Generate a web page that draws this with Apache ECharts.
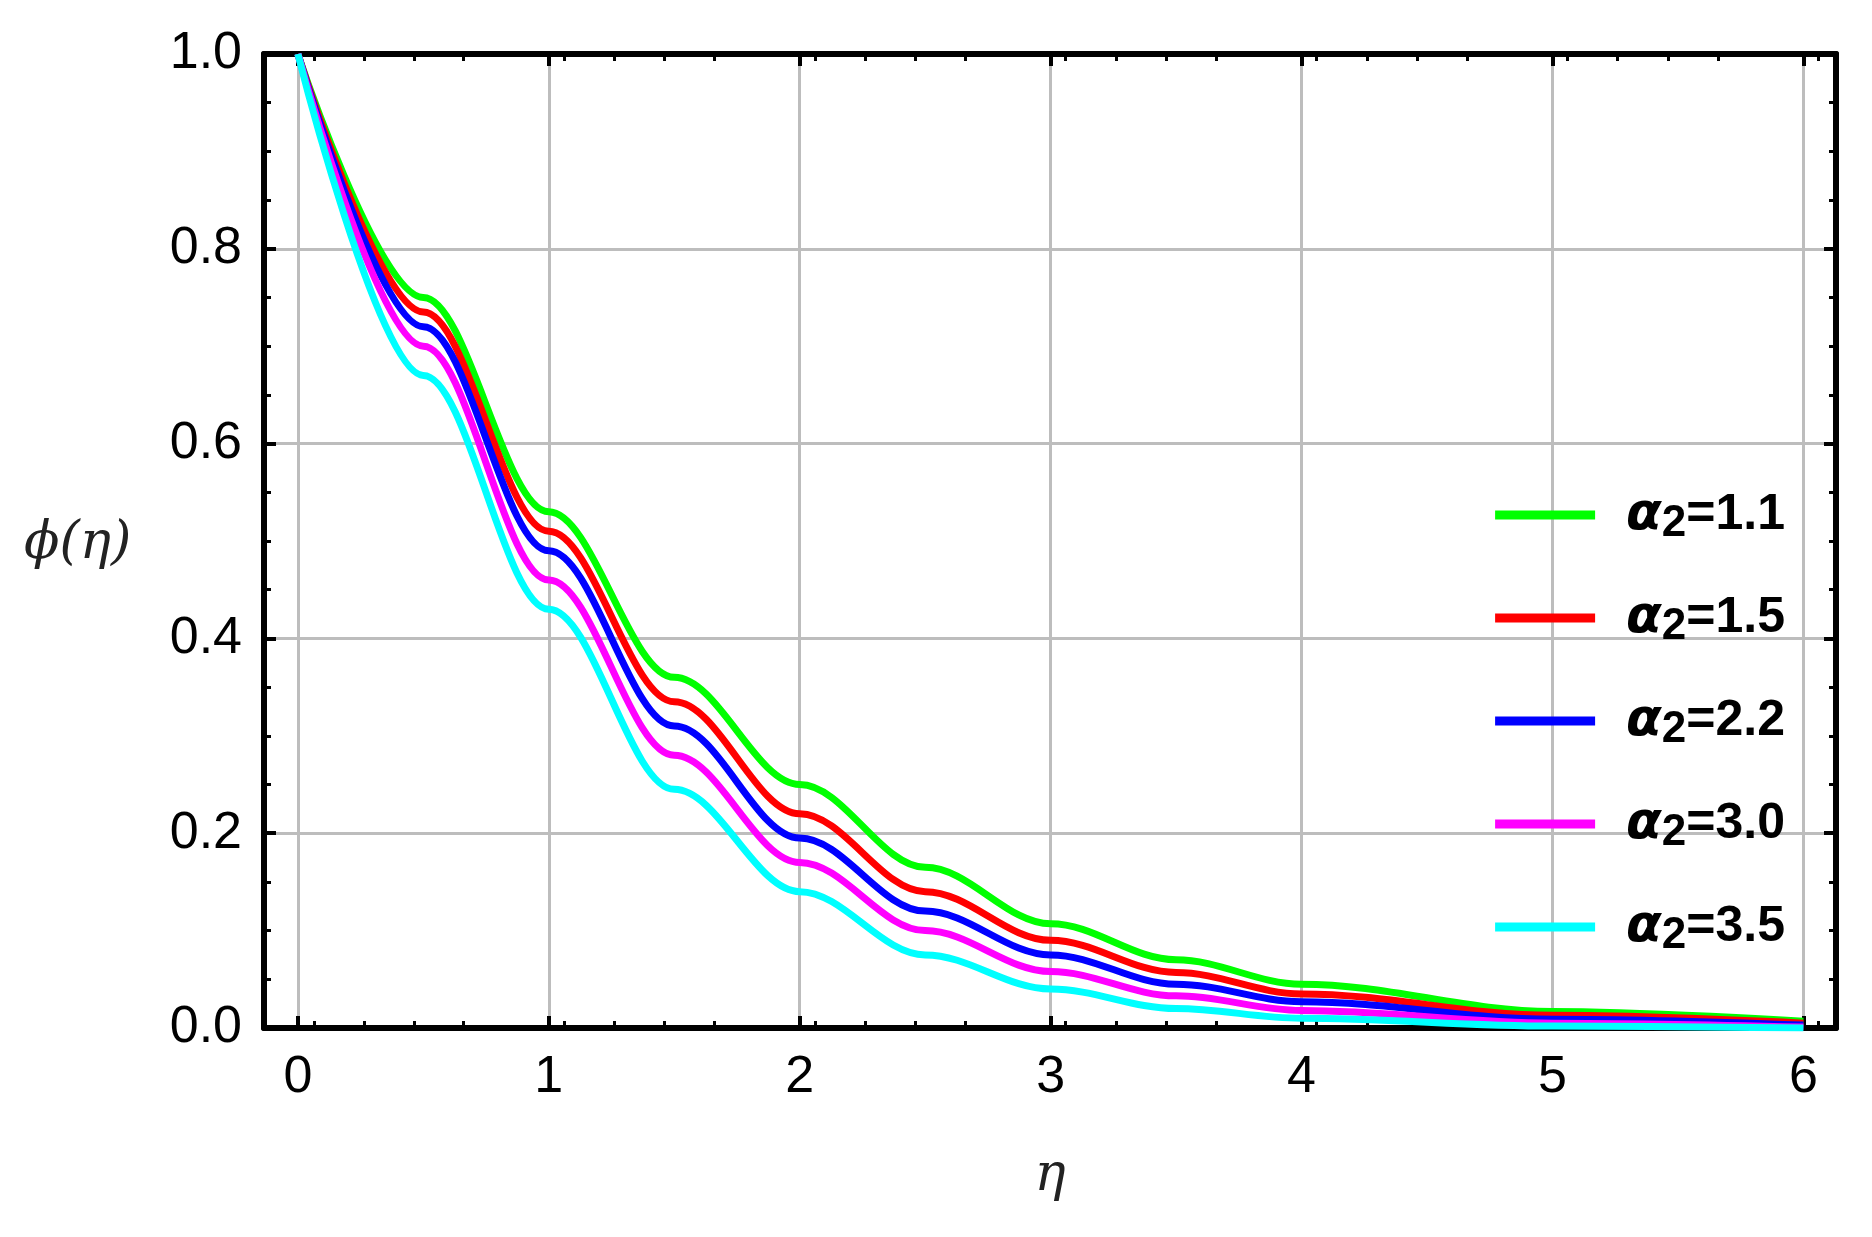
<!DOCTYPE html>
<html><head><meta charset="utf-8">
<script src="https://cdn.jsdelivr.net/npm/echarts@6/dist/echarts.min.js"></script>
<style>html,body{margin:0;background:#fff}#main{width:1872px;height:1237px}</style>
</head><body><div id="main"></div>
<script>
var eta = [0, 0.5, 1, 1.5, 2, 2.5, 3, 3.5, 4, 5, 6];
var phi11 = [1, 0.75, 0.53, 0.36, 0.25, 0.165, 0.107, 0.07, 0.045, 0.017, 0.007];
var phi15 = [1, 0.735, 0.51, 0.335, 0.22, 0.14, 0.09, 0.057, 0.035, 0.013, 0.005];
var phi22 = [1, 0.72, 0.49, 0.31, 0.195, 0.12, 0.075, 0.045, 0.027, 0.009, 0.003];
var phi30 = [1, 0.70, 0.46, 0.28, 0.17, 0.10, 0.058, 0.033, 0.018, 0.005, 0.001];
var phi35 = [1, 0.67, 0.43, 0.245, 0.14, 0.075, 0.04, 0.02, 0.01, 0.002, 0];
var names = ['1.1', '1.5', '2.2', '3.0', '3.5'];
var colors = ['#00ff00', '#ff0000', '#0000ff', '#ff00ff', '#00ffff'];
var allData = [phi11, phi15, phi22, phi30, phi35];

var chart = echarts.init(document.getElementById('main'));
var tickFont = { fontFamily: 'Arial, Liberation Sans', fontSize: 52, color: '#000' };

function xAx(pos, show) {
  return {
    type: 'value', position: pos, min: -0.135, max: 6.13, interval: 1,
    axisLine: { show: true, onZero: false, lineStyle: { color: '#000', width: 6 } },
    axisTick: { show: true, inside: true, length: 12, lineStyle: { color: '#000', width: 4 },
      customValues: [0, 1, 2, 3, 4, 5, 6] },
    minorTick: { show: true, splitNumber: 5, length: 7, lineStyle: { color: '#000', width: 3 } },
    axisLabel: { show: show, margin: 24, customValues: [0, 1, 2, 3, 4, 5, 6], ...tickFont },
    splitLine: { show: show, lineStyle: { color: '#bdbdbd', width: 3 } },
    name: show ? 'η' : '', nameLocation: 'middle', nameGap: 122,
    nameTextStyle: { fontFamily: 'DejaVu Serif', fontStyle: 'italic', fontSize: 52, color: '#222' }
  };
}
function yAx(pos, show) {
  return {
    type: 'value', position: pos, min: 0, max: 1, interval: 0.2,
    axisLine: { show: true, onZero: false, lineStyle: { color: '#000', width: 6 } },
    axisTick: { show: true, inside: true, length: 12, lineStyle: { color: '#000', width: 4 } },
    minorTick: { show: true, splitNumber: 4, length: 7, lineStyle: { color: '#000', width: 3 } },
    axisLabel: { show: show, margin: 22, formatter: function (v) { return v.toFixed(1); }, ...tickFont },
    splitLine: { show: show, lineStyle: { color: '#bdbdbd', width: 3 } }
  };
}

chart.setOption({
  backgroundColor: '#fff',
  animation: false,
  grid: { left: 264, right: 36, top: 54, bottom: 209 },
  xAxis: [xAx('bottom', true), xAx('top', false)],
  yAxis: [yAx('left', true), yAx('right', false)],
  graphic: [{
    type: 'text', left: 24, top: 518,
    style: { text: 'ϕ(η)', font: 'italic 52px DejaVu Serif', fill: '#222' }
  }],
  legend: {
    orient: 'vertical', right: 82, top: 484, itemGap: 46,
    itemWidth: 100, itemHeight: 9, icon: 'rect',
    data: names.map(function (n) { return 'a' + n; }),
    formatter: function (n) { return '{a|α}{s|2}{v|=' + n.slice(1) + '}'; },
    textStyle: {
      padding: [0, 0, 0, 26],
      rich: {
        a: { fontFamily: 'DejaVu Sans', fontStyle: 'italic', fontWeight: 'bold', fontSize: 52, color: '#000' },
        s: { fontFamily: 'Arial, Liberation Sans', fontWeight: 'bold', fontSize: 44, color: '#000', verticalAlign: 'bottom', padding: [18, 0, 0, 0] },
        v: { fontFamily: 'Arial, Liberation Sans', fontWeight: 'bold', fontSize: 50, color: '#000' }
      }
    }
  },
  series: allData.map(function (d, i) {
    return {
      name: 'a' + names[i], type: 'line', smooth: 0.35, smoothMonotone: 'x', showSymbol: false,
      color: colors[i], lineStyle: { width: 7, color: colors[i] },
      data: eta.map(function (x, j) { return [x, d[j]]; })
    };
  })
});
</script></body></html>
